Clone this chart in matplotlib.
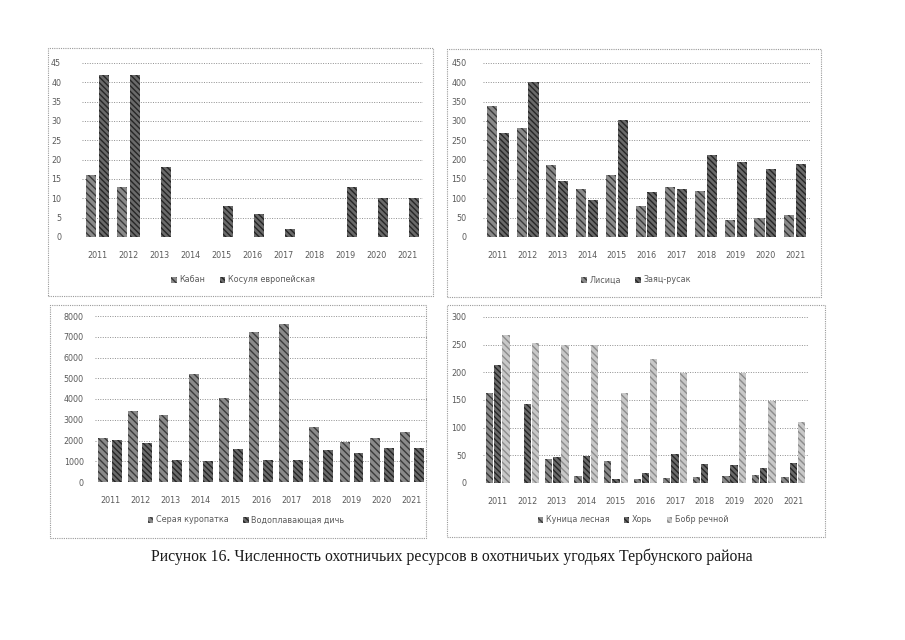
import matplotlib
matplotlib.use("Agg")
import matplotlib.pyplot as plt
from matplotlib.patches import Rectangle
import numpy as np

years = ["2011", "2012", "2013", "2014", "2015", "2016", "2017", "2018", "2019", "2020", "2021"]

kaban = [16, 13, 0, 0, 0, 0, 0, 0, 0, 0, 0]
kosulya = [42, 42, 18, 0, 8, 6, 2, 0, 13, 10, 10]

lisica = [340, 283, 185, 123, 160, 81, 130, 120, 44, 48, 56]
zayac = [269, 400, 144, 96, 303, 116, 125, 213, 193, 176, 190]

kuropatka = [2120, 3410, 3220, 5200, 4040, 7210, 7600, 2640, 1920, 2100, 2420]
vodopl = [2010, 1870, 1050, 1010, 1590, 1050, 1050, 1550, 1420, 1640, 1640]

kunica = [163, 0, 43, 13, 39, 7, 9, 10, 13, 14, 10]
hor = [214, 143, 47, 49, 7, 18, 53, 34, 33, 28, 36]
bobr = [268, 253, 249, 250, 163, 225, 199, 0, 199, 149, 110]

caption = "Рисунок 16. Численность охотничьих ресурсов в охотничьих угодьях Тербунского района"

plt.rcParams['hatch.linewidth'] = 1.0
plt.rcParams['font.family'] = ['DejaVu Sans']

fig = plt.figure(figsize=(9.05, 6.4), dpi=100)
fig.patch.set_facecolor('white')

STY = [
    dict(color='#8a8a8a', edgecolor='#3a3a3a', hatch='\\\\\\\\\\'),
    dict(color='#6a6a6a', edgecolor='#262626', hatch='\\\\\\\\\\\\'),
    dict(color='#c8c8c8', edgecolor='#8c8c8c', hatch='\\\\\\\\\\'),
]
TXT = '#5a5a5a'
FS = 5.8


def panel(rect_box, rect_ax, series, names, ymax, ystep, width, offsets, ypad, leg_xy):
    fig.patches.append(Rectangle(rect_box[:2], rect_box[2], rect_box[3], transform=fig.transFigure,
                                 fill=False, edgecolor='#9a9a9a', linestyle=(0, (1, 1)), linewidth=0.8))
    ax = fig.add_axes(rect_ax)
    x = np.arange(len(years))
    handles = []
    for i, (vals, off) in enumerate(zip(series, offsets)):
        st = STY[i]
        b = ax.bar(x + off, vals, width, color=st['color'], edgecolor=st['edgecolor'],
                   hatch=st['hatch'], linewidth=0, zorder=3, label=names[i])
        handles.append(b)
    ax.set_xlim(-0.5, len(years) - 0.5)
    ax.set_ylim(0, ymax)
    ticks = np.arange(0, ymax + ystep / 2, ystep)
    ax.set_yticks(ticks)
    ax.set_yticklabels([str(int(t)) for t in ticks])
    ax.set_xticks(x)
    ax.set_xticklabels(years)
    for t in ticks:
        ax.axhline(t, color='#8f8f8f', linestyle=(0, (1, 1.5)), linewidth=0.7, zorder=1)
    for s in ax.spines.values():
        s.set_visible(False)
    ax.tick_params(axis='both', length=0, labelsize=FS, colors=TXT)
    ax.tick_params(axis='y', pad=ypad)
    ax.tick_params(axis='x', pad=10)
    ax.set_facecolor('none')
    fig.legend(handles=handles, loc='center', bbox_to_anchor=leg_xy, bbox_transform=fig.transFigure,
               ncol=len(series), frameon=False, fontsize=FS, labelcolor=TXT,
               handlelength=0.7, handleheight=0.7, handletextpad=0.3, columnspacing=1.8)
    return ax


W, H = 905.0, 640.0


def fx(px):
    return px / W


def fy(py):
    return 1 - py / H


# panel 1
panel((fx(48), fy(296), fx(433) - fx(48), (296 - 48) / H),
      (fx(82), fy(237), (423 - 82) / W, (237 - 63) / H),
      [kaban, kosulya], ["Кабан", "Косуля европейская"], 45, 5, 0.34, [-0.21, 0.21], 15,
      (fx(243), fy(280)))

# panel 2
panel((fx(447), fy(297), (821 - 447) / W, (297 - 49) / H),
      (fx(483), fy(237), (810 - 483) / W, (237 - 63) / H),
      [lisica, zayac], ["Лисица", "Заяц-русак"], 450, 50, 0.34, [-0.2, 0.2], 12,
      (fx(636), fy(280)))

# panel 3
panel((fx(50), fy(538), (426 - 50) / W, (538 - 305) / H),
      (fx(95), fy(482), (427 - 95) / W, (482 - 316) / H),
      [kuropatka, vodopl], ["Серая куропатка", "Водоплавающая дичь"], 8000, 1000, 0.33, [-0.23, 0.23], 8,
      (fx(246), fy(520)))

# panel 4
panel((fx(447), fy(537), (825 - 447) / W, (537 - 305) / H),
      (fx(483), fy(483), (808 - 483) / W, (483 - 317) / H),
      [kunica, hor, bobr], ["Куница лесная", "Хорь", "Бобр речной"], 300, 50, 0.25, [-0.28, 0.0, 0.28], 12,
      (fx(633), fy(520)))

fig.text(fx(452), fy(557), caption, ha='center', va='center', fontsize=11.3,
         family=['Liberation Serif', 'DejaVu Serif'], color='#1a1a1a')

fig.savefig('out.png', dpi=100, facecolor='white')
